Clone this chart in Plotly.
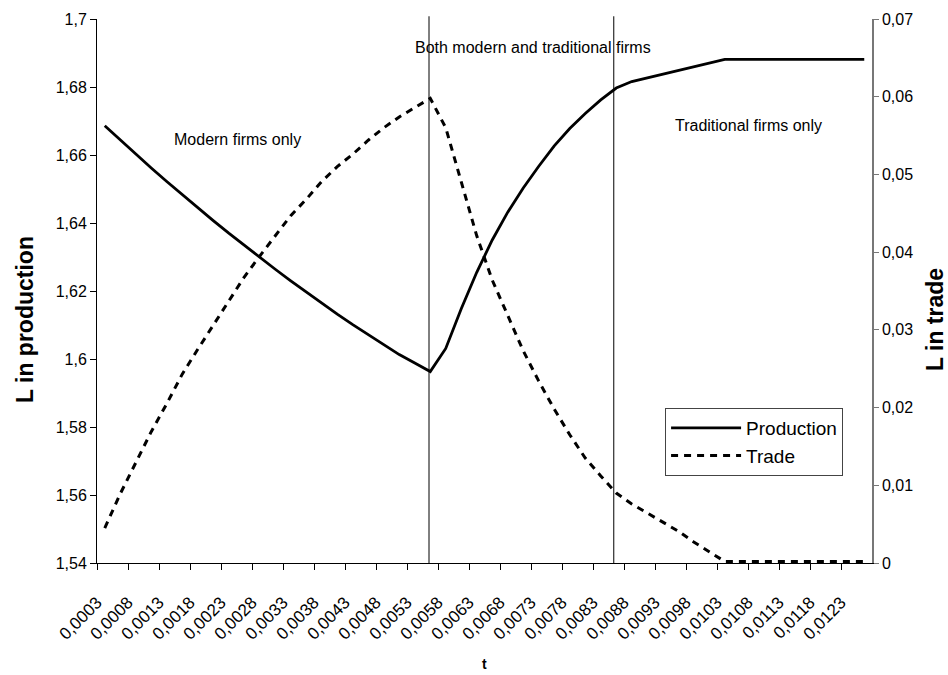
import plotly.graph_objects as go

# ---- data ----
t_values = [0.0003, 0.00055, 0.0008, 0.00105, 0.0013, 0.00155, 0.0018, 0.00205, 0.0023, 0.00255,
            0.0028, 0.00305, 0.0033, 0.00355, 0.0038, 0.00405, 0.0043, 0.00455, 0.0048, 0.00505,
            0.0053, 0.00555, 0.0058, 0.00605, 0.0063, 0.00655, 0.0068, 0.00705, 0.0073, 0.00755,
            0.0078, 0.00805, 0.0083, 0.00855, 0.0088, 0.00905, 0.0093, 0.00955, 0.0098, 0.01005,
            0.0103, 0.01055, 0.0108, 0.01105, 0.0113, 0.01155, 0.0118, 0.01205, 0.0123, 0.01255]

production = [1.6686, 1.6644, 1.6603, 1.6562, 1.6522, 1.6483, 1.6445, 1.6407, 1.6370, 1.6334,
              1.6299, 1.6264, 1.6230, 1.6197, 1.6164, 1.6132, 1.6101, 1.6071, 1.6041, 1.6013,
              1.5988, 1.5963, 1.6031, 1.6148, 1.6255, 1.6350, 1.6432, 1.6503, 1.6567, 1.6627,
              1.6678, 1.6722, 1.6762, 1.6797, 1.6816, 1.6827, 1.6838, 1.6849, 1.6859, 1.6870,
              1.6881, 1.6881, 1.6881, 1.6881, 1.6881, 1.6881, 1.6881, 1.6881, 1.6881, 1.6881]

trade = [0.0045, 0.0089, 0.0129, 0.0169, 0.0205, 0.0243, 0.0275, 0.0306, 0.0337, 0.0368,
         0.0395, 0.0421, 0.0447, 0.0468, 0.0491, 0.0510, 0.0526, 0.0544, 0.0560, 0.0574,
         0.0586, 0.0598, 0.0560, 0.0490, 0.0421, 0.0364, 0.0319, 0.0273, 0.0234, 0.0198,
         0.0165, 0.0135, 0.0112, 0.0090, 0.0076, 0.0064, 0.0053, 0.0041, 0.0027, 0.0015,
         0.0002, 0.0002, 0.0002, 0.0002, 0.0002, 0.0002, 0.0002, 0.0002, 0.0002, 0.0002]

x_label_values = [0.0003, 0.0008, 0.0013, 0.0018, 0.0023, 0.0028, 0.0033, 0.0038, 0.0043, 0.0048,
                  0.0053, 0.0058, 0.0063, 0.0068, 0.0073, 0.0078, 0.0083, 0.0088, 0.0093, 0.0098,
                  0.0103, 0.0108, 0.0113, 0.0118, 0.0123]
x_tick_labels = ["0,0003", "0,0008", "0,0013", "0,0018", "0,0023", "0,0028", "0,0033", "0,0038",
                 "0,0043", "0,0048", "0,0053", "0,0058", "0,0063", "0,0068", "0,0073", "0,0078",
                 "0,0083", "0,0088", "0,0093", "0,0098", "0,0103", "0,0108", "0,0113", "0,0118",
                 "0,0123"]

left_tick_values = [1.54, 1.56, 1.58, 1.60, 1.62, 1.64, 1.66, 1.68, 1.70]
left_tick_labels = ["1,54", "1,56", "1,58", "1,6", "1,62", "1,64", "1,66", "1,68", "1,7"]
right_tick_values = [0, 0.01, 0.02, 0.03, 0.04, 0.05, 0.06, 0.07]
right_tick_labels = ["0", "0,01", "0,02", "0,03", "0,04", "0,05", "0,06", "0,07"]

regime_boundaries = [0.00553, 0.00851]
regime_labels = ["Modern firms only", "Both modern and traditional firms", "Traditional firms only"]

x_title = "t"
left_title = "L in production"
right_title = "L in trade"

# ---- styling ----
FONT = "Arial, Liberation Sans, sans-serif"
half_cat = 0.000125
x_range = [t_values[0] - half_cat, t_values[-1] + half_cat]
x_tickvals = [v - half_cat for v in x_label_values]
x_tickvals_all = x_tickvals + [x_range[1]]

fig = go.Figure()
fig.add_trace(go.Scatter(x=t_values, y=production, mode="lines", name="Production",
                         line=dict(color="black", width=2.8), yaxis="y"))
fig.add_trace(go.Scatter(x=t_values, y=trade, mode="lines", name="Trade",
                         line=dict(color="black", width=3, dash="7px,6px"), yaxis="y2"))

for b in regime_boundaries:
    fig.add_shape(type="line", xref="x", yref="paper", x0=b, x1=b, y0=0, y1=1.005,
                  line=dict(color="black", width=1))

ann_pos = [(0.181, 0.778), (0.5626, 0.947), (0.84, 0.805)]
for txt, (ax, ay) in zip(regime_labels, ann_pos):
    fig.add_annotation(text=txt, x=ax, y=ay, xref="paper", yref="paper", showarrow=False,
                       xanchor="center", yanchor="middle",
                       font=dict(family=FONT, size=16, color="black"))

# axis titles
fig.add_annotation(text="<b>%s</b>" % x_title, x=0.5006, y=-0.1857, xref="paper", yref="paper",
                   showarrow=False, xanchor="center", yanchor="middle",
                   font=dict(family=FONT, size=14, color="black"))
fig.add_annotation(text="<b>%s</b>" % left_title, x=-0.0929, y=0.4467, xref="paper", yref="paper",
                   showarrow=False, xanchor="center", yanchor="middle", textangle=-90,
                   font=dict(family=FONT, size=23, color="black"))
fig.add_annotation(text="<b>%s</b>" % right_title, x=1.0813, y=0.4467, xref="paper", yref="paper",
                   showarrow=False, xanchor="center", yanchor="middle", textangle=-90,
                   font=dict(family=FONT, size=23, color="black"))

fig.update_layout(
    width=948, height=675,
    margin=dict(l=97, r=76, t=19, b=112),
    paper_bgcolor="white", plot_bgcolor="white",
    font=dict(family=FONT, color="black"),
    showlegend=True,
    legend=dict(x=0.733, y=0.285, xanchor="left", yanchor="top",
                bordercolor="#444", borderwidth=1, bgcolor="white",
                font=dict(family=FONT, size=19), itemwidth=70, tracegroupgap=0),
    xaxis=dict(range=x_range, tickmode="array", tickvals=x_tickvals, ticktext=x_tick_labels,
               tickangle=-45, ticks="outside", ticklen=6, tickcolor="black",
               showline=True, linecolor="black", linewidth=1, showgrid=False, zeroline=False,
               tickfont=dict(family=FONT, size=17), automargin=False, ticklabelstandoff=16),
    xaxis3=dict(range=x_range, overlaying="x", tickmode="array", tickvals=x_tickvals_all,
                ticks="inside", ticklen=6, tickcolor="black", showticklabels=False,
                showline=False, showgrid=False, zeroline=False),
    yaxis=dict(range=[1.54, 1.70], tickmode="array", tickvals=left_tick_values,
               ticktext=left_tick_labels, ticks="outside", ticklen=6, tickcolor="black",
               showline=True, linecolor="black", linewidth=1, showgrid=False, zeroline=False,
               tickfont=dict(family=FONT, size=16), automargin=False),
    yaxis3=dict(range=[1.54, 1.70], overlaying="y", anchor="x", tickmode="array",
                tickvals=left_tick_values, ticks="inside", ticklen=6, tickcolor="black",
                showticklabels=False, showline=False, showgrid=False, zeroline=False),
    yaxis2=dict(range=[0, 0.07], overlaying="y", side="right", anchor="x", tickmode="array",
                tickvals=right_tick_values, ticktext=right_tick_labels, ticks="outside",
                ticklen=5, tickcolor="#777", showline=True, linecolor="#777", linewidth=1.5,
                showgrid=False, zeroline=False, tickfont=dict(family=FONT, size=16),
                automargin=False),
    yaxis4=dict(range=[0, 0.07], overlaying="y", side="right", anchor="x", tickmode="array",
                tickvals=right_tick_values, ticks="inside", ticklen=5, tickcolor="#777",
                showticklabels=False, showline=False, showgrid=False, zeroline=False),
)

fig.write_html("out.html", config={"displayModeBar": False},
               post_script="document.body.style.margin='0px';document.body.style.overflow='hidden';")
